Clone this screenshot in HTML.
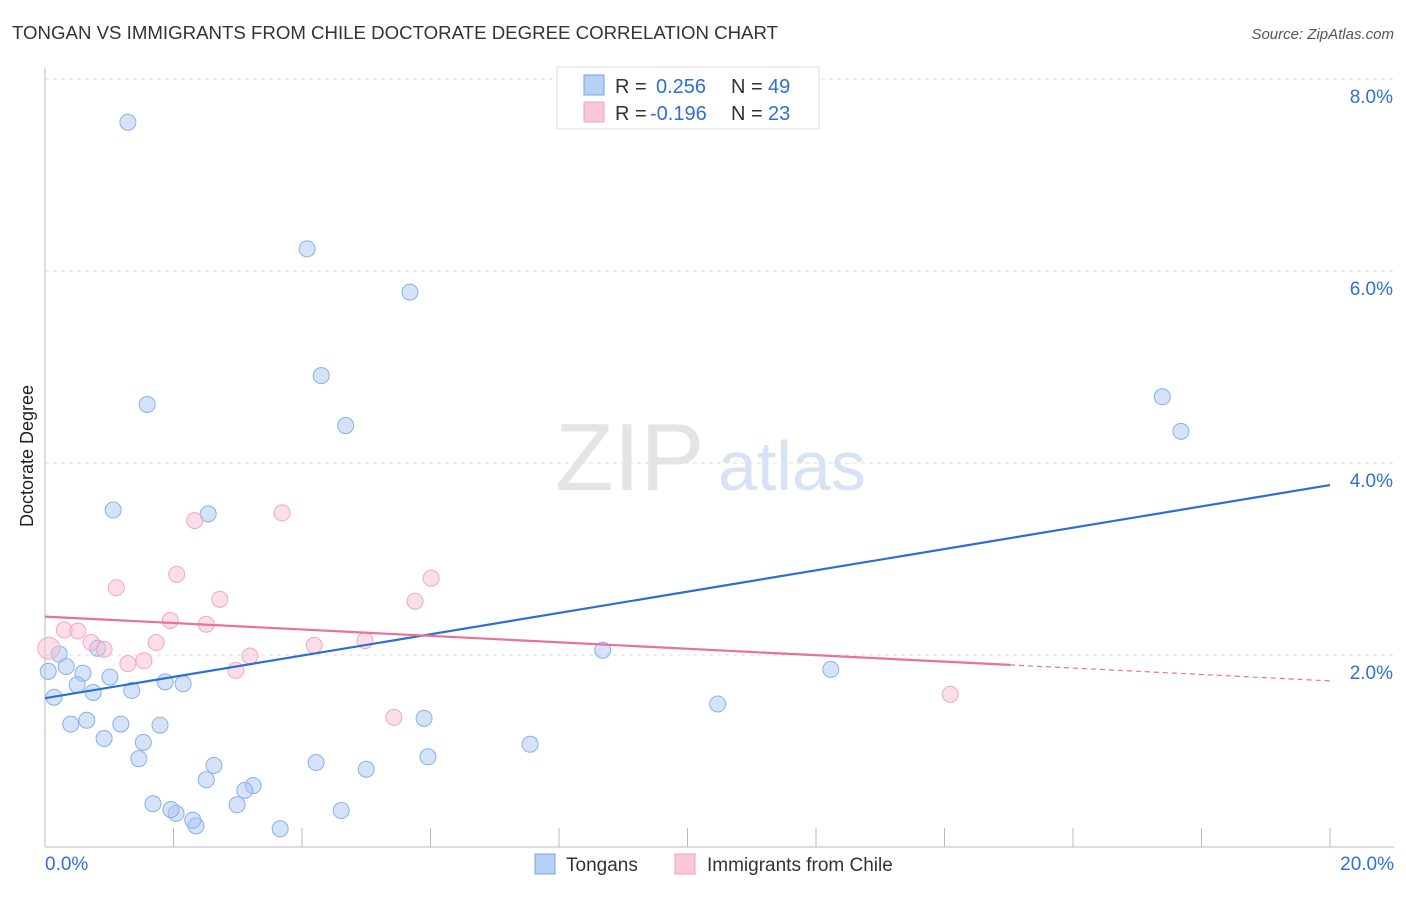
<!DOCTYPE html>
<html><head><meta charset="utf-8"><style>
body{margin:0;background:#fff;font-family:"Liberation Sans",sans-serif;}
svg text{font-family:"Liberation Sans",sans-serif;}
</style></head><body>
<svg id="chart" width="1406" height="892" xmlns="http://www.w3.org/2000/svg">
<text x="12" y="39" font-size="18" fill="#333" textLength="766" lengthAdjust="spacingAndGlyphs">TONGAN VS IMMIGRANTS FROM CHILE DOCTORATE DEGREE CORRELATION CHART</text>
<text x="1394" y="39" font-size="15" fill="#555" text-anchor="end" font-style="italic">Source: ZipAtlas.com</text>
<g id="grid"></g>
<text x="555" y="490" font-size="96" fill="#e4e4e4" font-family="Liberation Serif">ZIP</text>
<text x="718" y="490" font-size="70" fill="#d7e3f5">atlas</text>
<text transform="translate(33,456) rotate(-90)" font-size="18" fill="#222" text-anchor="middle">Doctorate Degree</text>
<g id="marks"></g>
<g>
<rect x="557" y="67" width="262" height="62" fill="#fff" stroke="#ddd"/>
<rect x="584" y="75" width="20" height="20" fill="#b7d0f5" stroke="#7aa5e0"/>
<rect x="584" y="102" width="20" height="20" fill="#f8c8d6" stroke="#eea0b8"/>
<text x="615" y="93" font-size="20" fill="#333">R =</text>
<text x="656" y="93" font-size="20" fill="#2f6fd6">0.256</text>
<text x="731" y="93" font-size="20" fill="#333">N =</text>
<text x="768" y="93" font-size="20" fill="#2f6fd6">49</text>
<text x="615" y="120" font-size="20" fill="#333">R =</text>
<text x="650" y="120" font-size="20" fill="#2f6fd6">-0.196</text>
<text x="731" y="120" font-size="20" fill="#333">N =</text>
<text x="768" y="120" font-size="20" fill="#2f6fd6">23</text>
</g>
<g>
<rect x="535" y="854" width="20" height="20" fill="#b7d0f5" stroke="#7aa5e0"/>
<text x="566" y="871" font-size="19" fill="#333">Tongans</text>
<rect x="675" y="854" width="20" height="20" fill="#f8c8d6" stroke="#eea0b8"/>
<text x="707" y="871" font-size="19" fill="#333">Immigrants from Chile</text>
</g>
</svg>
<script>
const blueX=[1.29,4.08,5.68,4.30,1.59,4.68,17.39,17.68,1.06,2.54,8.68,12.23,10.47,7.55,5.90,5.96,5.00,4.22,4.61,3.24,2.99,2.63,2.51,3.66,2.35,2.30,2.04,1.96,1.68,1.46,1.53,1.79,1.18,0.92,0.65,0.40,0.14,0.05,0.22,0.33,0.59,0.50,0.75,0.82,1.01,1.35,1.87,2.15,3.11];
const blueY=[7.55,6.23,5.78,4.91,4.61,4.39,4.69,4.33,3.51,3.47,2.05,1.85,1.49,1.07,1.34,0.94,0.81,0.88,0.38,0.64,0.44,0.85,0.70,0.19,0.22,0.28,0.35,0.39,0.45,0.92,1.09,1.27,1.28,1.13,1.32,1.28,1.56,1.83,2.01,1.88,1.81,1.69,1.61,2.07,1.77,1.63,1.72,1.70,0.59];
const pinkX=[0.06,0.30,0.51,0.72,0.92,1.11,1.29,1.54,1.73,1.95,2.05,2.33,2.51,2.72,2.97,3.19,3.69,4.19,4.98,5.43,5.76,6.01,14.09];
const pinkY=[2.07,2.26,2.25,2.13,2.06,2.70,1.91,1.94,2.13,2.36,2.84,3.40,2.32,2.58,1.84,1.99,3.48,2.10,2.15,1.35,2.56,2.80,1.59];
const blueTrend=[1.55,3.77];
const pinkTrend=[2.40,1.73];
const pinkSolidEnd=15.02;
const yTicks=[2,4,6,8];
const yTickLabels=["2.0%","4.0%","6.0%","8.0%"];
const xTicks=[0,2,4,6,8,10,12,14,16,18,20];
const NS="http://www.w3.org/2000/svg";
const X=v=>45+v*64.25, Y=v=>847-v*96;
function mk(tag,attrs,parent){const e=document.createElementNS(NS,tag);for(const k in attrs)e.setAttribute(k,attrs[k]);parent.appendChild(e);return e;}
const grid=document.getElementById('grid'),marks=document.getElementById('marks');
yTicks.forEach((t,i)=>{
 const l=mk('line',{x1:45,x2:1394,y1:Y(t),y2:Y(t),stroke:'#ddd','stroke-dasharray':'4,4'},grid);
 
 
 const tx=mk('text',{x:1393,y:Y(t)+24,'font-size':19,fill:'#2f6fd6','text-anchor':'end'},grid);
 tx.textContent=yTickLabels[i];
 
 
});
const ax=mk('line',{x1:45,x2:45,y1:68,y2:847,stroke:'#bbb'},grid);


const bx=mk('line',{x1:45,x2:1394,y1:847,y2:847,stroke:'#bbb'},grid);


xTicks.forEach(t=>{const l=mk('line',{x1:X(t),x2:X(t),y1:828,y2:847,stroke:'#bbb'},grid);
 
 });
[[0,"0.0%",'start',45],[20,"20.0%",'end',1394]].forEach(d=>{const tx=mk('text',{x:d[3],y:870,'font-size':19,fill:'#2f6fd6','text-anchor':d[2]},grid);tx.textContent=d[1];
 
 });
blueX.forEach((v,i)=>{const c=mk('circle',{cx:X(v),cy:Y(blueY[i]),r:8,fill:'rgba(170,200,242,0.5)',stroke:'#8ab0e6','stroke-width':1},marks);
 
 });
pinkX.forEach((v,i)=>{const c=mk('circle',{cx:X(v),cy:Y(pinkY[i]),r:i==0?11:8,fill:'rgba(248,190,208,0.5)',stroke:'#f0a8c0','stroke-width':1},marks);
 
 });
const bl=mk('line',{x1:X(0),y1:Y(blueTrend[0]),x2:X(20),y2:Y(blueTrend[1]),stroke:'#2a6fd6','stroke-width':2.2},marks);


const pv=x=>pinkTrend[0]+(pinkTrend[1]-pinkTrend[0])*x/20;
const pl=mk('line',{x1:X(0),y1:Y(pv(0)),x2:X(pinkSolidEnd),y2:Y(pv(pinkSolidEnd)),stroke:'#e8709a','stroke-width':2.2},marks);


const pd=mk('line',{x1:X(pinkSolidEnd),y1:Y(pv(pinkSolidEnd)),x2:X(20),y2:Y(pv(20)),stroke:'#e8709a','stroke-width':1.2,'stroke-dasharray':'5,4'},marks);


</script>
</body></html>
